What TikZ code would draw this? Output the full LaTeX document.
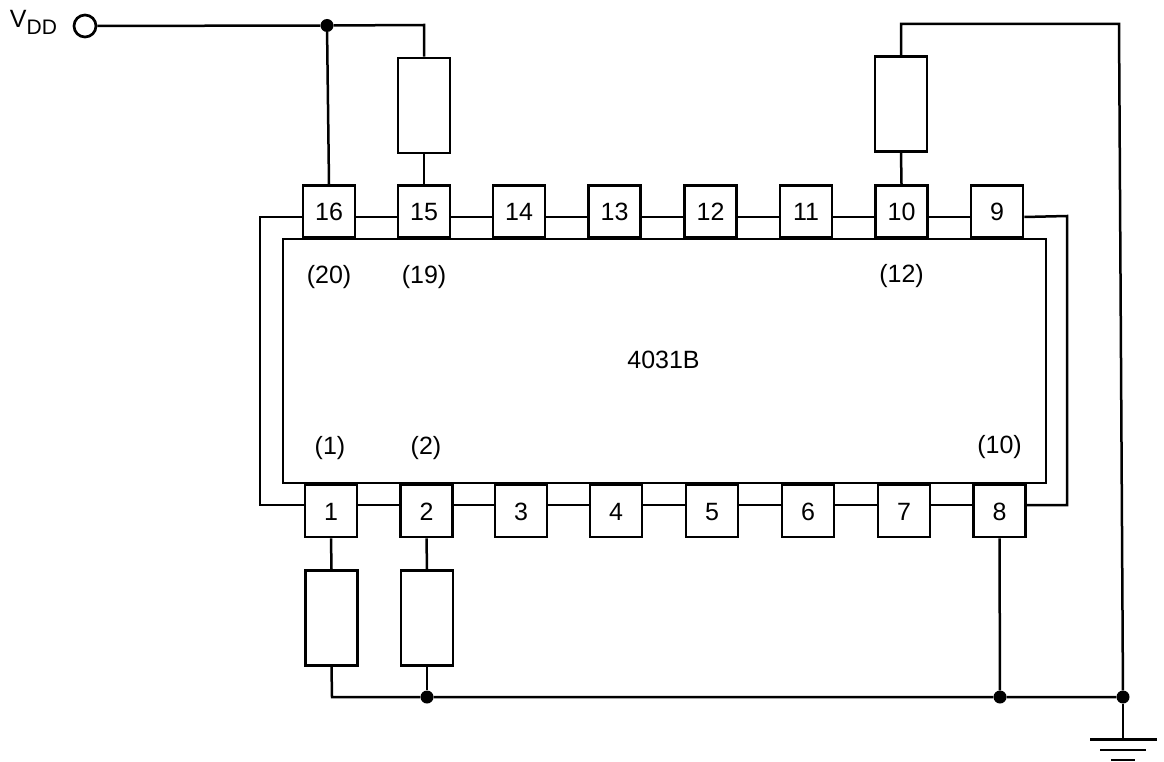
\documentclass[tikz,border=0pt]{standalone}
\usepackage{fontspec}
\setmainfont{Liberation Sans}
\tikzset{
  wire/.style={line width=2.5pt,line cap=butt,line join=miter},
  pin/.style={draw,line width=2.7pt,minimum width=52pt,minimum height=52pt,inner sep=0pt,fill=white,text height=18pt,text depth=0pt,font=\fontsize{25}{25}\selectfont},
  res/.style={draw,line width=2.7pt,minimum width=52pt,minimum height=95pt,inner sep=0pt,fill=white},
  chip/.style={draw,line width=2.7pt,minimum width=763pt,minimum height=244pt,inner sep=0pt},
  lab/.style={inner sep=0pt,font=\fontsize{25}{25}\selectfont},
  dot/.style={circle,fill=black,inner sep=0pt,minimum size=13pt},
  term/.style={circle,draw,line width=2.7pt,inner sep=0pt,minimum size=22pt,fill=white},
}
\begin{document}
\begin{tikzpicture}[x=1pt,y=-1pt]
\useasboundingbox[fill=white] (0,0) rectangle (1164,762);
\node[chip] (ic) at (664.5,361) {};
\foreach \n/\x in {16/329,15/424,14/519,13/614.5,12/710.5,11/806,10/901.5,9/997}
  \node[pin] (p\n) at (\x,211.5) {\n};
\foreach \n/\x in {1/331,2/426.5,3/521,4/616,5/712,6/808,7/904,8/999.5}
  \node[pin] (p\n) at (\x,511) {\n};
\node[res] (r15) at (424,105.5) {};
\node[res] (r10) at (901,104) {};
\node[res] (r1) at (331.5,618) {};
\node[res] (r2) at (427,618) {};
\node[term] (vdd) at (85,26) {};
\node[dot] (d1) at (327,25.5) {};
\node[dot] (d2) at (427,697) {};
\node[dot] (d3) at (1000,697) {};
\node[dot] (d4) at (1123,697) {};
\coordinate (c15) at (424,25);
\coordinate (c10) at (901,24);
\coordinate (cr) at (1119,24);
\coordinate (c1) at (332,697);
\coordinate (gnd) at (1123,739);
\coordinate (gl1) at (1090,739.5);
\coordinate (gr1) at (1157,739.5);
\coordinate (gl2) at (1100,750);
\coordinate (gr2) at (1146,750);
\coordinate (gl3) at (1111,760);
\coordinate (gr3) at (1135,760);
\coordinate (otl) at (260,217);
\coordinate (obl) at (260,505);
\coordinate (otr) at (1067,216);
\coordinate (obr) at (1067,505);
\draw[wire] (vdd) -- (d1) -- (c15) -- (r15.north);
\draw[wire] (d1) -- (p16.north);
\draw[wire] (r15.south) -- (p15.north);
\draw[wire] (r10.south) -- (p10.north);
\draw[wire] (r10.north) -- (c10) -- (cr) -- (d4);
\draw[wire] (p1.south) -- (r1.north);
\draw[wire] (p2.south) -- (r2.north);
\draw[wire] (r1.south) -- (c1) -- (d2) -- (d3) -- (d4);
\draw[wire] (r2.south) -- (d2);
\draw[wire] (p8.south) -- (d3);
\draw[wire] (d4) -- (gnd);
\draw[wire] (gl1) -- (gr1);
\draw[wire] (gl2) -- (gr2);
\draw[wire] (gl3) -- (gr3);
\foreach \a/\b in {16/15,15/14,14/13,13/12,12/11,11/10,10/9}
  \draw[wire] ([yshift=-5.5pt]p\a.east) -- ([yshift=-5.5pt]p\b.west);
\foreach \a/\b in {1/2,2/3,3/4,4/5,5/6,6/7,7/8}
  \draw[wire] ([yshift=6pt]p\a.east) -- ([yshift=6pt]p\b.west);
\draw[wire] ([yshift=-5.5pt]p16.west) -- (otl) -- (obl) -- ([yshift=6pt]p1.west);
\draw[wire] ([yshift=-5.5pt]p9.east) -- (otr) -- (obr) -- ([yshift=6pt]p8.east);
\node[lab] (tv) at (33.5,22) {V\raisebox{-7pt}{\fontsize{21}{21}\selectfont DD}};
\node[lab] (l20) at (329,277) {(20)};
\node[lab] (l19) at (424,277) {(19)};
\node[lab] (l12) at (901.5,276) {(12)};
\node[lab] (l1) at (330,448) {(1)};
\node[lab] (l2) at (426,448) {(2)};
\node[lab] (l10) at (999.5,447) {(10)};
\node[lab] (name) at (663.5,360) {4031B};
\end{tikzpicture}
\end{document}
